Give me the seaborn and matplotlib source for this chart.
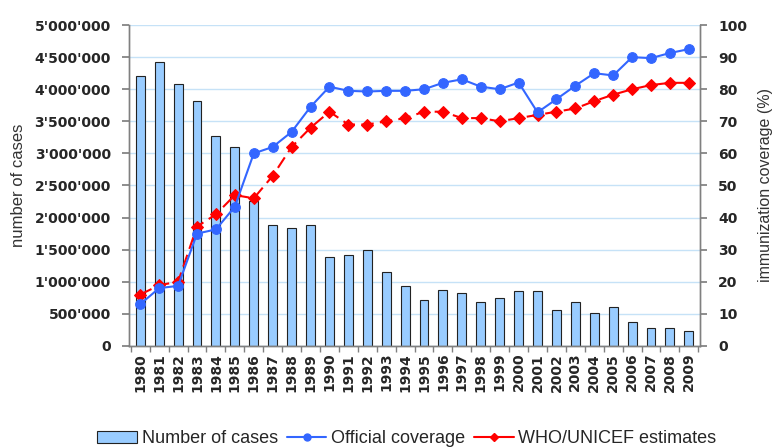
import numpy as np
import pandas as pd
import seaborn as sns
import matplotlib.pyplot as plt
from matplotlib.ticker import FuncFormatter
from matplotlib.patches import Patch
from matplotlib.lines import Line2D

years = [str(y) for y in range(1980, 2010)]
cases = [4200000, 4430000, 4085000, 3815000, 3275000, 3100000, 2255000, 1880000,
         1835000, 1880000, 1385000, 1415000, 1490000, 1150000, 935000, 720000,
         870000, 830000, 690000, 750000, 855000, 855000, 565000, 680000,
         510000, 605000, 375000, 285000, 285000, 225000]
official = [13, 18, 18.7, 35, 36.3, 43.4, 60, 62, 66.7, 74.5, 80.8, 79.5, 79.3, 79.5,
            79.5, 80, 82, 83.1, 80.8, 80, 82.1, 72.8, 76.9, 81.1, 85, 84.3, 90,
            89.7, 91.3, 92.5]
who_unicef = [16, 18.9, 20, 37.2, 41, 47, 46, 53, 62, 68, 73, 69, 69, 70, 71, 73, 73,
              71, 71, 70, 71, 72, 73, 74, 76.3, 78.3, 80, 81.3, 82, 82]

BAR_BLUE = "#99CCFF"
LINE_BLUE = "#3366FF"
RED = "#FF0000"
GRID = "#C6E2F7"
TICK_FONT = dict(family='DejaVu Sans', weight='bold', size=10)

df = pd.DataFrame({'year': years, 'cases': cases,
                   'official': official, 'who': who_unicef})

sns.set_theme(style="white")
plt.rcParams['font.family'] = ['Liberation Sans', 'DejaVu Sans']

fig, ax = plt.subplots(figsize=(7.72, 4.48), dpi=100)
fig.subplots_adjust(left=0.167, right=0.907, top=0.944, bottom=0.228)

sns.barplot(data=df, x='year', y='cases', color=BAR_BLUE, edgecolor='#222222',
            linewidth=0.8, width=0.47, saturation=1, ax=ax, zorder=2)
ax.set_ylim(0, 5000000)
ax.set_yticks(np.arange(0, 5000001, 500000))
ax.yaxis.set_major_formatter(FuncFormatter(lambda v, p: "{:,.0f}".format(v).replace(",", "'")))
ax.set_xlim(-0.6, len(years) - 0.4)
ax.set_xticks(np.arange(-0.5, len(years), 1), minor=True)
ax.yaxis.grid(True, color=GRID, lw=1)
ax.set_axisbelow(True)
ax.set_xlabel('')
ax.set_ylabel('number of cases', fontsize=12, color='#333333', labelpad=6)
for lbl in ax.get_yticklabels() + ax.get_xticklabels():
    lbl.set_fontproperties(TICK_FONT)
for lbl in ax.get_xticklabels():
    lbl.set_rotation(90)
ax.tick_params(axis='x', which='major', length=0, pad=5)
ax.tick_params(axis='x', which='minor', length=4, direction='out', color='#808080', bottom=True)
ax.tick_params(axis='y', length=5, direction='out', color='#808080', pad=8)

ax2 = ax.twinx()
sns.lineplot(data=df, x='year', y='official', color=LINE_BLUE, marker='o', markersize=7,
             markeredgecolor=LINE_BLUE, lw=1.5, sort=False, ax=ax2, zorder=4)
sns.lineplot(data=df, x='year', y='who', color=RED, marker='D', markersize=6,
             markeredgecolor=RED, lw=1.5, dashes=False, sort=False, ax=ax2, zorder=3)
ax2.lines[-1].set_dashes([6, 3])
ax2.set_ylim(0, 100)
ax2.set_yticks(np.arange(0, 101, 10))
ax2.set_xlim(-0.6, len(years) - 0.4)
ax2.set_ylabel('immunization coverage (%)', fontsize=11.5, color='#333333', labelpad=8)
ax2.tick_params(axis='y', length=5, direction='out', color='#808080', pad=8)
for lbl in ax2.get_yticklabels():
    lbl.set_fontproperties(TICK_FONT)
ax2.set_xlabel('')

for a in (ax, ax2):
    a.spines['top'].set_visible(False)
    for s in ('left', 'right', 'bottom'):
        a.spines[s].set_color('#808080')
        a.spines[s].set_linewidth(1)

handles = [Patch(facecolor=BAR_BLUE, edgecolor='#222222', lw=0.8),
           Line2D([], [], color=LINE_BLUE, marker='o', markersize=5, lw=1.5),
           Line2D([], [], color=RED, marker='D', markersize=4, lw=1.5)]
labels = ['Number of cases', 'Official coverage', 'WHO/UNICEF estimates']
fig.legend(handles, labels, loc='lower center', bbox_to_anchor=(0.527, -0.035), ncol=3,
           frameon=False, fontsize=13, handlelength=2.2, handletextpad=0.25,
           columnspacing=0.5)

fig.savefig('out.png', dpi=100)
